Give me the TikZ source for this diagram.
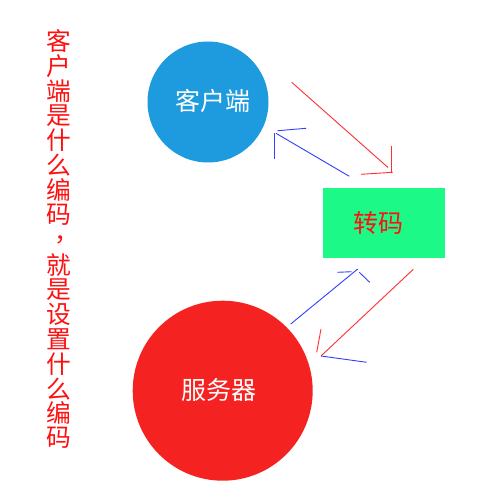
\documentclass[tikz,border=0pt]{standalone}
\usepackage{fontspec}
\newfontfamily\cjk{Noto Sans CJK SC}
\definecolor{cblue}{HTML}{1E9BDF}
\definecolor{cred}{HTML}{F52222}
\definecolor{cgreen}{HTML}{1CF987}
\definecolor{tred}{HTML}{FF1010}
\definecolor{lred}{HTML}{FF3030}
\definecolor{lblue}{HTML}{3040FF}
\tikzset{
  ball/.style={circle, inner sep=0pt, draw=none},
  lbl/.style={inner sep=0pt, font=\cjk\fontsize{25}{25}\selectfont},
  vch/.style={inner sep=0pt, text=tred, font=\cjk\fontsize{24.7}{24.7}\selectfont},
  rline/.style={draw=lred, line width=0.9pt},
  bline/.style={draw=lblue, line width=0.9pt}
}
\begin{document}
\begin{tikzpicture}[x=1pt,y=-1pt]
\useasboundingbox (0,0) rectangle (500,500);
\fill[white] (0,0) rectangle (500,500);
% nodes
\node[ball, fill=cblue, minimum size=121pt] (client) at (208,102) {};
\node[lbl, text=white] (clientlbl) at (213,101) {客户端};
\node[ball, fill=cred, minimum size=180pt] (server) at (222.7,390.7) {};
\node[lbl, text=white] (serverlbl) at (219,390) {服务器};
\node[rectangle, fill=cgreen, minimum width=122pt, minimum height=69.7pt, inner sep=0pt] (trans) at (384,222.85) {};
\node[lbl, text=tred] (translbl) at (378,222.7) {转码};
% vertical text
\foreach \c [count=\i from 0] in {客,户,端,是,什,么,编,码,{},就,是,设,置,什,么,编,码}{
  \node[vch] (v\i) at (58.7,{41.4+24.8*\i}) {\c};
}
\node[vch, anchor=center] (vcomma) at (67,240) {，};
% arrow 1: client -> transcode (red)
\coordinate (a1s) at (291.7,82.3);
\coordinate (a1e) at (388,167.5);
\coordinate (a1v1) at (391.5,145.7);
\coordinate (a1v2) at (391.5,171.5);
\coordinate (a1h1) at (361,174.3);
\coordinate (a1h2) at (392.7,172.3);
\draw[rline] (a1s) -- (a1e);
\draw[rline] (a1v1) -- (a1v2);
\draw[rline] (a1h1) -- (a1h2);
% arrow 2: transcode -> client (blue)
\coordinate (a2s) at (349.3,176.3);
\coordinate (a2e) at (276,133.3);
\coordinate (a2v1) at (274.3,133);
\coordinate (a2v2) at (274.3,159);
\coordinate (a2h1) at (277.7,130.7);
\coordinate (a2h2) at (306,128.3);
\draw[bline] (a2s) -- (a2e);
\draw[bline] (a2v1) -- (a2v2);
\draw[bline] (a2h1) -- (a2h2);
% arrow 3: server -> transcode (blue)
\coordinate (a3s) at (290.7,324);
\coordinate (a3e) at (357.7,269);
\coordinate (a3h1) at (337.3,272.3);
\coordinate (a3h2) at (351.7,271.7);
\coordinate (a3d1) at (359.3,272.3);
\coordinate (a3d2) at (369.7,282.3);
\draw[bline] (a3s) -- (a3e);
\draw[bline] (a3h1) -- (a3h2);
\draw[bline] (a3d1) -- (a3d2);
% arrow 4: transcode -> server (red, one blue barb)
\coordinate (a4s) at (413.3,269.3);
\coordinate (a4e) at (321,356);
\coordinate (a4r1) at (321,329);
\coordinate (a4r2) at (316.7,352.3);
\coordinate (a4b2) at (366.7,362.3);
\draw[rline] (a4s) -- (a4e);
\draw[rline] (a4r1) -- (a4r2);
\draw[bline] (a4e) -- (a4b2);
\end{tikzpicture}
\end{document}
